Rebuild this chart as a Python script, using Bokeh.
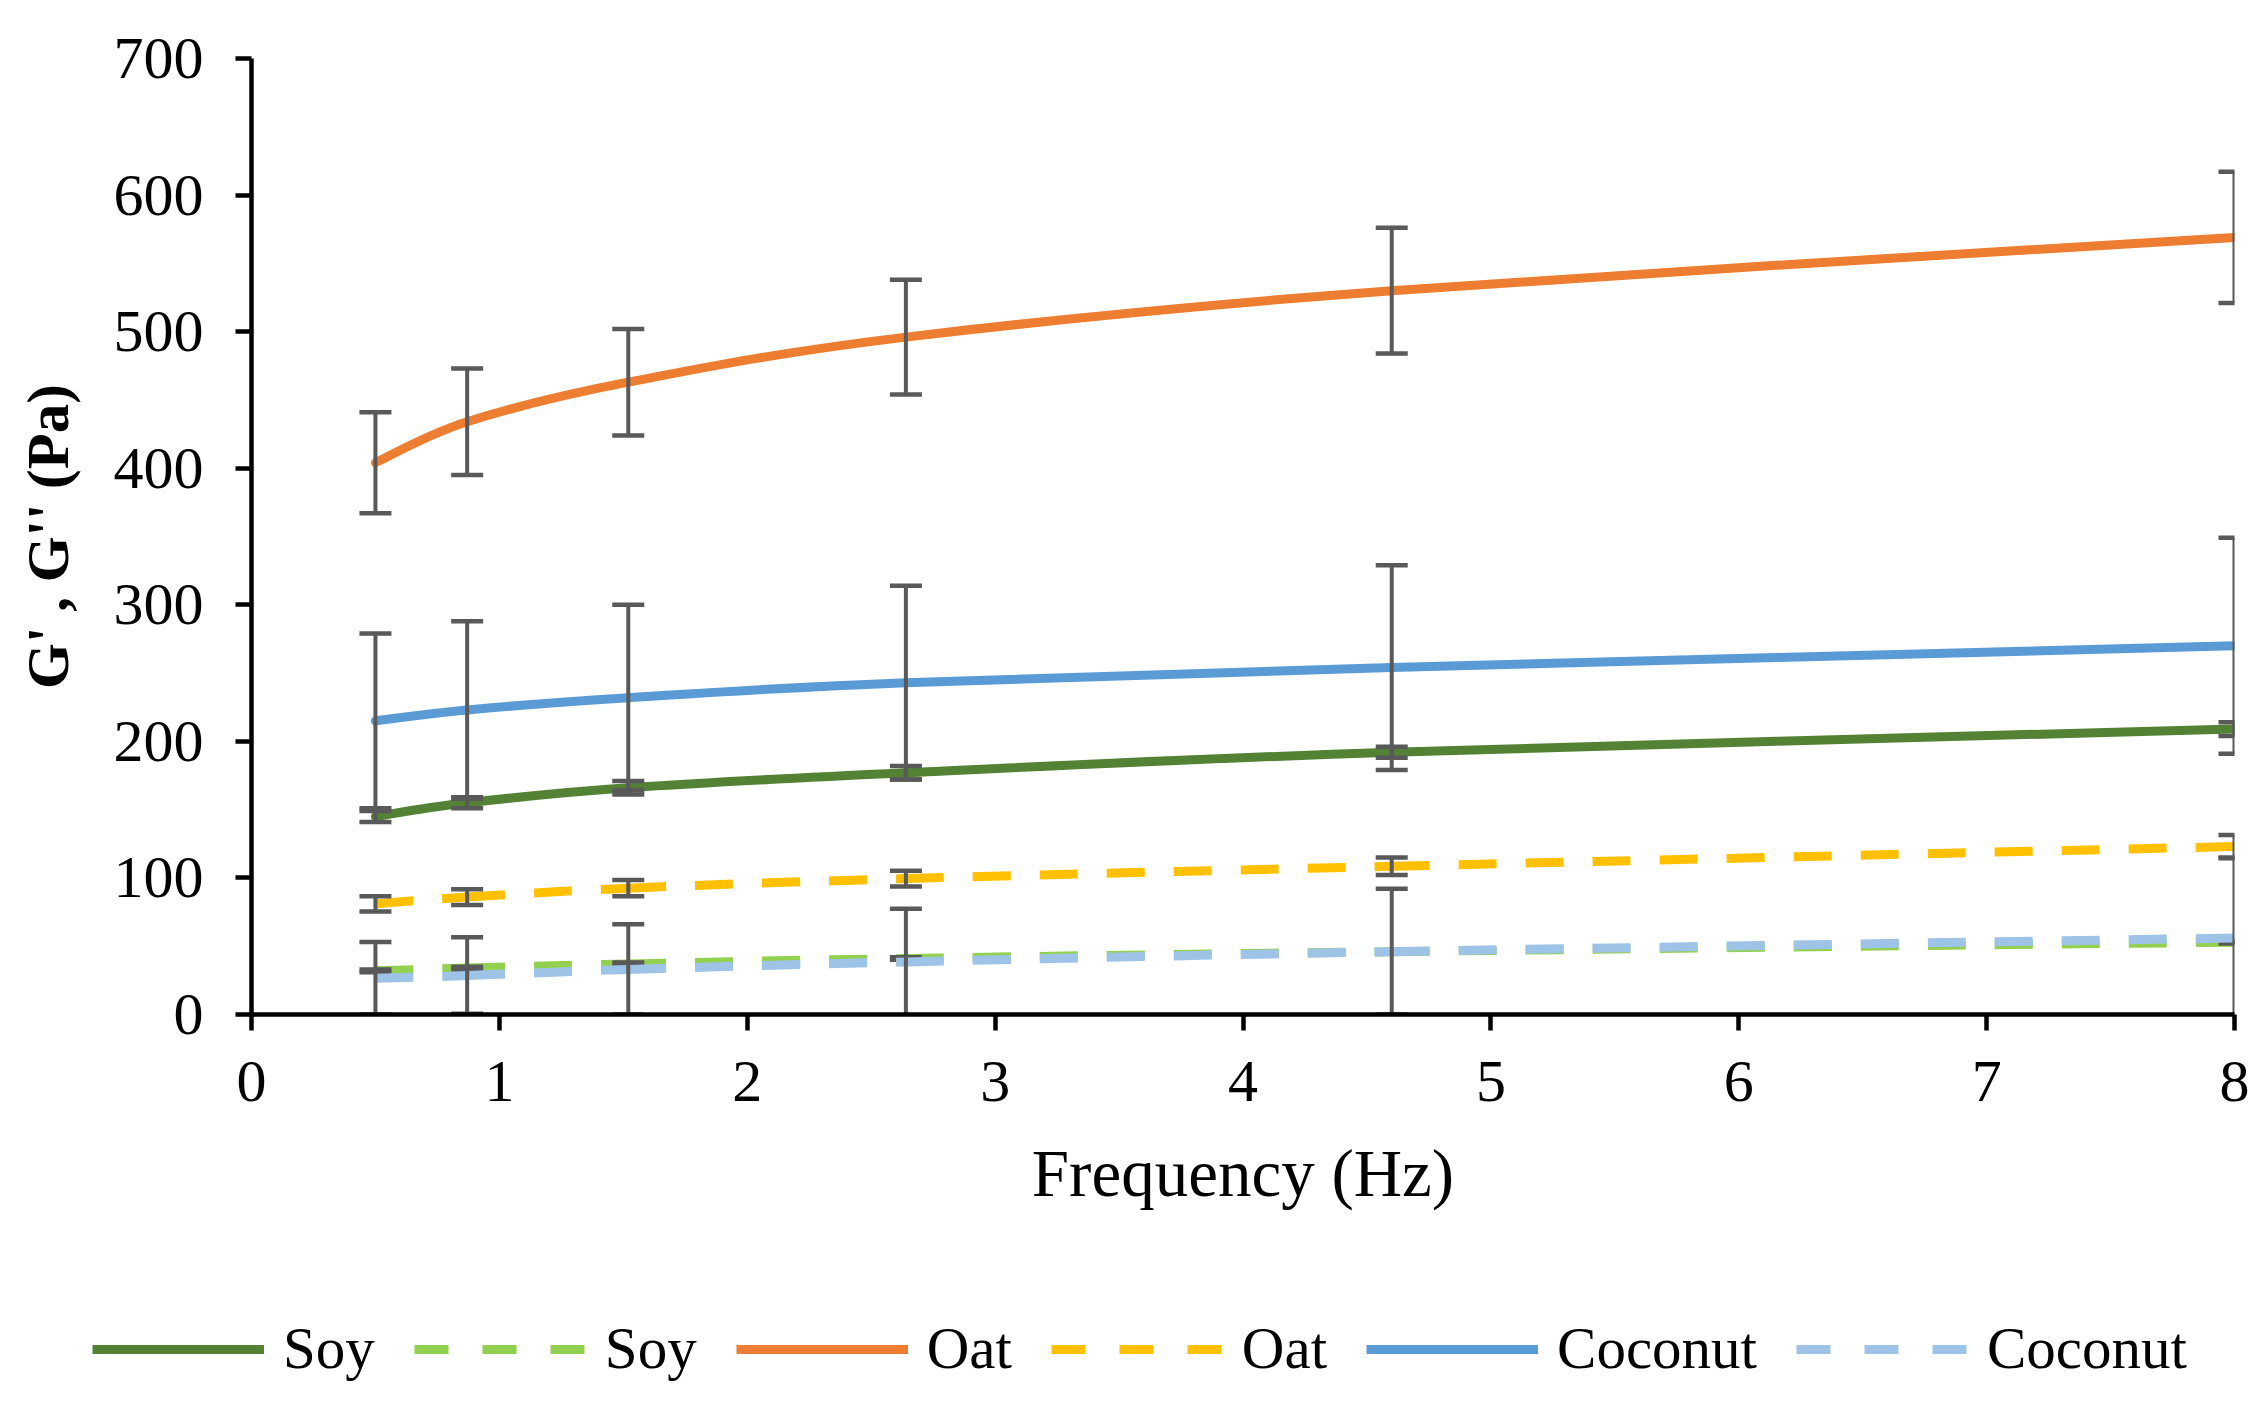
from bokeh.plotting import figure
from bokeh.models import Range1d, FixedTicker, Legend, LegendItem
from bokeh.embed import file_html
from bokeh.resources import INLINE

# ---- data ----
freq = [0.5, 0.87, 1.52, 2.64, 4.6, 8.0]

soy_g1 = [145, 155, 166, 177, 192, 209]
soy_g1_err = [4, 4, 5, 5, 4, 5]
soy_g2 = [32, 34, 37, 41, 46, 53]
soy_g2_err = [1, 1, 1, 1, 1, 1]

oat_g1 = [404, 434, 463, 496, 530, 569]
oat_g1_err = [37, 39, 39, 42, 46, 48]
oat_g2 = [81, 86, 92.5, 99.5, 108.5, 123]
oat_g2_err = [5.6, 5.8, 6, 5.7, 6.4, 8.5]

coco_g1 = [215, 223, 232, 243, 254, 270]
coco_g1_err = [64, 65, 68, 71, 75, 79]
coco_g2 = [26.5, 28.5, 33, 38.5, 46, 56]
coco_g2_err = [26.5, 28, 33, 39, 46, 59]

series_labels = ["Soy", "Soy", "Oat", "Oat", "Coconut", "Coconut"]
x_ticks = [0, 1, 2, 3, 4, 5, 6, 7, 8]
y_ticks = [0, 100, 200, 300, 400, 500, 600, 700]
x_title = "Frequency (Hz)"
y_title = "G' , G'' (Pa)"

FONT = "Liberation Serif"
ERR_COLOR = "#595959"

series = [
    (soy_g1, soy_g1_err, "#548235", None),
    (soy_g2, soy_g2_err, "#92D050", "38 29"),
    (oat_g1, oat_g1_err, "#ED7D31", None),
    (oat_g2, oat_g2_err, "#FFC000", "38 29"),
    (coco_g1, coco_g1_err, "#5B9BD5", None),
    (coco_g2, coco_g2_err, "#9DC3E6", "38 29"),
]


def smooth_segments(xs, ys):
    """Bezier control points like a spreadsheet 'smoothed line' (Catmull-Rom)."""
    n = len(xs)
    out = dict(x0=[], y0=[], x1=[], y1=[], cx0=[], cy0=[], cx1=[], cy1=[])
    for i in range(n - 1):
        xp, yp = (xs[i - 1], ys[i - 1]) if i > 0 else (xs[i], ys[i])
        xn, yn = (xs[i + 2], ys[i + 2]) if i + 2 < n else (xs[i + 1], ys[i + 1])
        out["x0"].append(xs[i]); out["y0"].append(ys[i])
        out["x1"].append(xs[i + 1]); out["y1"].append(ys[i + 1])
        out["cx0"].append(xs[i] + (xs[i + 1] - xp) / 6.0)
        out["cy0"].append(ys[i] + (ys[i + 1] - yp) / 6.0)
        out["cx1"].append(xs[i + 1] - (xn - xs[i]) / 6.0)
        out["cy1"].append(ys[i + 1] - (yn - ys[i]) / 6.0)
    return out


p = figure(
    width=2250, height=1280,
    x_range=Range1d(0, 8), y_range=Range1d(0, 700),
    output_backend="svg", toolbar_location=None,
    min_border_left=251, min_border_right=16,
    min_border_top=58, min_border_bottom=266,
)
p.outline_line_color = None
p.xgrid.visible = False
p.ygrid.visible = False
p.background_fill_color = "white"
p.border_fill_color = "white"

for ax in (p.xaxis[0], p.yaxis[0]):
    ax.axis_line_width = 4.5
    ax.axis_line_color = "black"
    ax.major_tick_line_width = 4.5
    ax.major_tick_line_color = "black"
    ax.major_tick_in = 0
    ax.major_tick_out = 16
    ax.minor_tick_line_color = None
    ax.major_label_text_font = FONT
    ax.major_label_text_font_size = "60px"
    ax.major_label_text_color = "black"
    ax.axis_label_text_font = FONT
    ax.axis_label_text_color = "black"
    ax.axis_label_text_font_style = "normal"

p.xaxis.ticker = FixedTicker(ticks=x_ticks)
p.yaxis.ticker = FixedTicker(ticks=y_ticks)
p.xaxis.axis_label = x_title
p.yaxis.axis_label = y_title
p.xaxis.axis_label_text_font_size = "67px"
p.yaxis.axis_label_text_font_size = "59px"
p.yaxis.axis_label_text_font_style = "bold"
p.xaxis.major_label_standoff = 31
p.yaxis.major_label_standoff = 32
p.xaxis.axis_label_standoff = 32
p.yaxis.axis_label_standoff = 30

# curves and error bars, series by series
for ys, errs, color, dash in series:
    seg = smooth_segments(freq, ys)
    kw = dict(line_color=color, line_width=9)
    if dash:
        kw["line_dash"] = dash
        kw["line_cap"] = "butt"
    else:
        kw["line_cap"] = "round"
    p.bezier(**seg, **kw)
    lo = [y - e for y, e in zip(ys, errs)]
    hi = [y + e for y, e in zip(ys, errs)]
    p.segment(x0=freq, y0=lo, x1=freq, y1=hi, line_color=ERR_COLOR, line_width=4)
    p.scatter(x=freq + freq, y=lo + hi, marker="dash", size=32,
              line_color=ERR_COLOR, line_width=4.5)

# ---- legend strip (separate root below the chart, frame spans full width) ----
lf = figure(
    width=2250, height=115,
    x_range=Range1d(0, 1), y_range=Range1d(0, 1),
    output_backend="svg", toolbar_location=None,
    x_axis_location=None, y_axis_location=None,
    min_border=0, min_border_left=0, min_border_right=0,
    min_border_top=0, min_border_bottom=0,
)
lf.outline_line_color = None
lf.xgrid.visible = False
lf.ygrid.visible = False

items = []
for (ys, errs, color, dash), label in zip(series, series_labels):
    kw = dict(line_color=color, line_width=9)
    if dash:
        kw["line_dash"] = "34 34"
    # legend proxy: the series itself, lying outside this strip's visible range
    r = lf.line(x=freq, y=ys, **kw)
    items.append(LegendItem(label=label, renderers=[r]))

legend = Legend(
    items=items, orientation="horizontal", nrows=1,
    location=(92, 12),
    glyph_width=172, glyph_height=30,
    label_standoff=19, spacing=39,
    padding=0, margin=0,
    label_text_font=FONT, label_text_font_size="59px",
    label_text_color="black",
    border_line_color=None, background_fill_alpha=0,
)
lf.add_layout(legend, "center")

open("out.html", "w").write(file_html([p, lf], INLINE))
